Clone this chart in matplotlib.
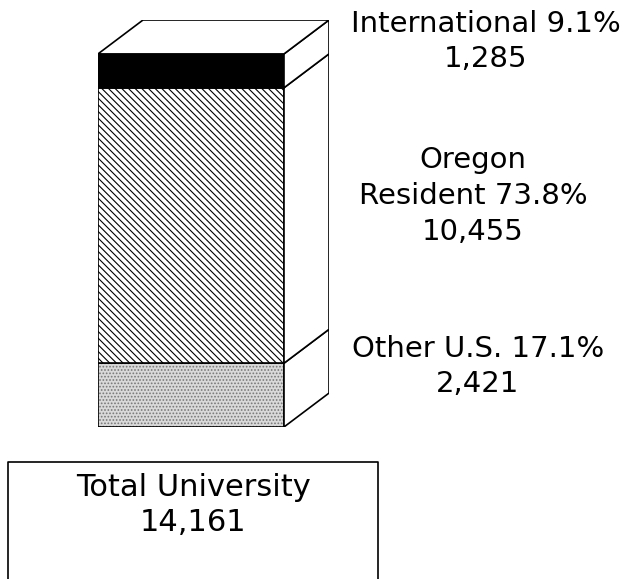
import matplotlib
matplotlib.use("Agg")
import matplotlib.pyplot as plt
from matplotlib.patches import Polygon

plt.rcParams['font.family'] = ['DejaVu Sans']
plt.rcParams['hatch.linewidth'] = 0.8

# data (bottom to top)
groups = ["Other U.S.", "Oregon\nResident", "International"]
counts = [2421, 10455, 1285]
pcts = [17.1, 73.8, 9.1]
total = 14161

W, H = 633, 579
fig = plt.figure(figsize=(W / 100, H / 100), dpi=100)

# the 3D bar
depth_x = 0.242
depth_y = total * 34 / 374
ax = fig.add_axes([98 / W, (H - 427) / H, 231 / W, 407 / H])
ax.set_xlim(0, 1 + depth_x)
ax.set_ylim(0, total + depth_y)
ax.axis('off')

styles = [
    dict(facecolor='#d9d9d9', hatch='.....', edgecolor='#777777'),
    dict(facecolor='white', hatch='\\\\\\\\\\', edgecolor='black'),
    dict(facecolor='black', hatch=None, edgecolor='black'),
]
bottom = 0
for c, st in zip(counts, styles):
    ax.bar(0.5, c, width=1, bottom=bottom, facecolor=st['facecolor'], hatch=st['hatch'],
           edgecolor=st['edgecolor'], linewidth=0)
    ax.bar(0.5, c, width=1, bottom=bottom, fill=False, edgecolor='black', linewidth=1.2)
    side = [(1, bottom), (1 + depth_x, bottom + depth_y),
            (1 + depth_x, bottom + c + depth_y), (1, bottom + c)]
    ax.add_patch(Polygon(side, closed=True, facecolor='white', edgecolor='black', linewidth=1.2))
    bottom += c

top = [(0, total), (depth_x, total + depth_y), (1 + depth_x, total + depth_y), (1, total)]
ax.add_patch(Polygon(top, closed=True, facecolor='white', edgecolor='black', linewidth=1.2))

# overlay for labels and total box, in pixel units
ov = fig.add_axes([0, 0, 1, 1])
ov.set_xlim(0, W)
ov.set_ylim(H, 0)
ov.axis('off')

# (center x, first baseline y, line pitch)
label_pos = [(478, 357, 35), (473, 168, 36), (486, 32, 35)]
for g, c, p, (x, y, pitch) in zip(groups, counts, pcts, label_pos):
    lines = g.split("\n")
    lines[-1] = f"{lines[-1]} {p:.1f}%"
    lines.append(f"{c:,}")
    for i, line in enumerate(lines):
        ov.text(x, y + i * pitch, line, ha='center', va='baseline', fontsize=21)

ov.plot([8, 8, 378, 378], [H + 5, 462, 462, H + 5], color='black', linewidth=1.2)
ov.text(193, 496, "Total University", ha='center', va='baseline', fontsize=22)
ov.text(193, 531, f"{total:,}", ha='center', va='baseline', fontsize=22)

fig.savefig("out.png", dpi=100)
